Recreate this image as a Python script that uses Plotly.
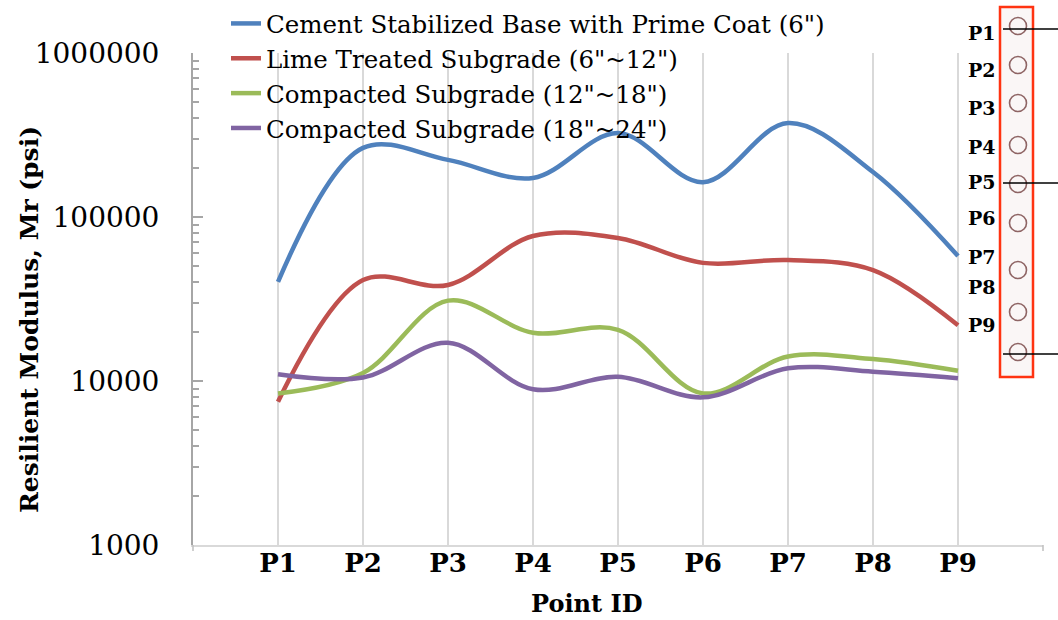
import plotly.graph_objects as go

categories = ["P1", "P2", "P3", "P4", "P5", "P6", "P7", "P8", "P9"]
cement_base = [40200, 264000, 223000, 173000, 325000, 163000, 374000, 188000, 57800]
lime_subgrade = [7480, 41300, 38500, 76600, 74500, 52500, 54700, 47500, 21900]
compacted_12_18 = [8400, 11200, 30900, 19700, 20500, 8400, 14100, 13600, 11550]
compacted_18_24 = [11000, 10500, 17100, 8900, 10600, 7950, 11950, 11400, 10400]

series_names = [
    'Cement Stabilized Base with Prime Coat (6")',
    'Lime Treated Subgrade (6"~12")',
    'Compacted Subgrade (12"~18")',
    'Compacted Subgrade (18"~24")',
]
series_values = [cement_base, lime_subgrade, compacted_12_18, compacted_18_24]
colors = ["#4F81BD", "#C0504D", "#9BBB59", "#8064A2"]

y_tick_vals = [1000, 10000, 100000, 1000000]
y_tick_text = ["1000", "10000", "100000", "1000000"]
inset_labels = ["P1", "P2", "P3", "P4", "P5", "P6", "P7", "P8", "P9"]

FONT = "DejaVu Serif"
W, H = 1058, 620
L, R, T, B = 193, 1043, 53, 545

x_pos = list(range(1, len(categories) + 1))

fig = go.Figure()
for name, vals, col in zip(series_names, series_values, colors):
    fig.add_trace(go.Scatter(
        x=x_pos, y=vals, name=name, mode="lines",
        line=dict(color=col, width=4.5, shape="spline", smoothing=1.0),
    ))

minor_vals = [k * 10 ** e for e in range(3, 6) for k in range(2, 10)]


def px_x(p):
    return (p - L) / (R - L)


def px_y(p):
    return (B - p) / (B - T)


shapes = []
# x-axis end tick marks
for xp in (L, R):
    shapes.append(dict(type="line", xref="paper", yref="paper",
                       x0=px_x(xp), x1=px_x(xp), y0=px_y(B), y1=px_y(B + 6),
                       line=dict(color="#BFBFBF", width=1.5)))
# inset background covering the plot edge
shapes.append(dict(type="rect", xref="paper", yref="paper",
                   x0=px_x(996), x1=px_x(1058), y0=px_y(378), y1=px_y(0),
                   fillcolor="white", line=dict(width=0), layer="above"))
shapes.append(dict(type="rect", xref="paper", yref="paper",
                   x0=px_x(1000), x1=px_x(1033), y0=px_y(377), y1=px_y(7),
                   fillcolor="#FAF6F6", line=dict(color="#FF3311", width=2.5), layer="above"))
circle_y = [26, 65, 103, 145, 184, 223, 270, 312, 352]
for cy in circle_y:
    shapes.append(dict(type="circle", xref="paper", yref="paper",
                       x0=px_x(1009.5), x1=px_x(1026.5), y0=px_y(cy + 8.5), y1=px_y(cy - 8.5),
                       line=dict(color="#8E6464", width=1.6), layer="above"))
for ly in (29, 183, 354):
    shapes.append(dict(type="line", xref="paper", yref="paper",
                       x0=px_x(1003), x1=px_x(1058), y0=px_y(ly), y1=px_y(ly),
                       line=dict(color="black", width=1.5), layer="above"))

annotations = []
label_y = [33, 70, 108, 147, 182, 218, 257, 287, 325]
for lab, ly in zip(inset_labels, label_y):
    annotations.append(dict(text=f"<b>{lab}</b>", xref="paper", yref="paper",
                            x=px_x(998), y=px_y(ly), xanchor="right", yanchor="middle",
                            showarrow=False, font=dict(family=FONT, size=19, color="black")))
annotations.append(dict(text="<b>Point ID</b>", xref="paper", yref="paper",
                        x=px_x(586), y=px_y(603), xanchor="center", yanchor="middle",
                        showarrow=False, font=dict(family=FONT, size=24, color="black")))
annotations.append(dict(text="<b>Resilient Modulus, Mr (psi)</b>", xref="paper", yref="paper",
                        x=px_x(29), y=px_y(320), xanchor="center", yanchor="middle",
                        textangle=-90, showarrow=False,
                        font=dict(family=FONT, size=25, color="black")))

fig.update_layout(
    width=W, height=H,
    margin=dict(l=L, r=W - R, t=T, b=H - B, autoexpand=False),
    paper_bgcolor="white", plot_bgcolor="white",
    font=dict(family=FONT, color="black"),
    showlegend=True,
    legend=dict(x=px_x(226), y=px_y(1), xanchor="left", yanchor="top",
                bgcolor="rgba(0,0,0,0)", font=dict(family=FONT, size=24.5, color="black"),
                itemwidth=30, tracegroupgap=0),
    shapes=shapes,
    annotations=annotations,
    xaxis=dict(
        range=[0, 10], automargin=False,
        tickvals=x_pos + [10], ticktext=[f"<b>{c}</b>" for c in categories] + [""],
        showgrid=True, gridcolor="#D9D9D9", gridwidth=1.5,
        showline=True, linecolor="#D9D9D9", linewidth=2,
        ticks="", zeroline=False, ticklabelstandoff=-6,
        tickfont=dict(family=FONT, size=26, color="black"),
    ),
    yaxis=dict(
        type="log", range=[3, 6], automargin=False,
        tickvals=y_tick_vals, ticktext=y_tick_text,
        showgrid=False, zeroline=False,
        showline=True, linecolor="#A6A6A6", linewidth=2,
        ticks="inside", ticklen=10, tickcolor="#A6A6A6", tickwidth=1.5,
        minor=dict(tickvals=minor_vals, ticks="inside", ticklen=6,
                   tickcolor="#A6A6A6", tickwidth=1.5, showgrid=False),
        ticklabelstandoff=26,
        tickfont=dict(family=FONT, size=28, color="black"),
    ),
)

fig.write_html("out.html")
